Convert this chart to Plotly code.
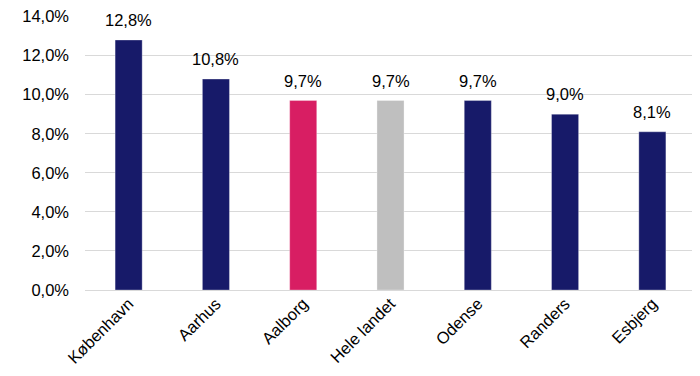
import plotly.graph_objects as go

categories = ["København", "Aarhus", "Aalborg", "Hele landet", "Odense", "Randers", "Esbjerg"]
values = [12.8, 10.8, 9.7, 9.7, 9.7, 9.0, 8.1]
colors = ["#171A69", "#171A69", "#D81E63", "#BFBFBF", "#171A69", "#171A69", "#171A69"]
tick_vals = [0, 2, 4, 6, 8, 10, 12, 14]
tick_text = ["0,0%", "2,0%", "4,0%", "6,0%", "8,0%", "10,0%", "12,0%", "14,0%"]

FONT = "Liberation Sans, Arial"
FS = 16.5

fig = go.Figure(go.Bar(
    x=categories, y=values,
    marker=dict(color=colors, line=dict(color="rgba(255,255,255,0.3)", width=1)),
    cliponaxis=False,
))
for c, v in zip(categories, values):
    fig.add_annotation(
        x=c, y=v, text=f"{v:.1f}%".replace(".", ","),
        showarrow=False, yanchor="bottom", yshift=9,
        font=dict(family=FONT, size=FS, color="#000000"),
    )
# page body has an 8px margin, so the figure is offset by 8px
fig.update_layout(
    width=692, height=368,
    margin=dict(l=77, r=4, t=8, b=86),
    plot_bgcolor="white", paper_bgcolor="white",
    separators=",.",
    bargap=0.69,
    showlegend=False,
    font=dict(family=FONT, size=FS, color="#000000"),
)
fig.update_yaxes(
    range=[0, 14.03], tickvals=tick_vals, ticktext=tick_text,
    showgrid=True, gridcolor="#D9D9D9", gridwidth=1,
    zeroline=True, zerolinecolor="#D9D9D9", zerolinewidth=1,
    showline=False, ticklabelstandoff=15, automargin=False,
    ticklabeloverflow="allow",
    tickfont=dict(family=FONT, size=FS, color="#000000"),
)
fig.update_xaxes(tickangle=-45, showline=False, showgrid=False, automargin=False,
                 ticklabeloverflow="allow",
                 tickfont=dict(family=FONT, size=FS, color="#000000"))
fig.write_html("out.html")
